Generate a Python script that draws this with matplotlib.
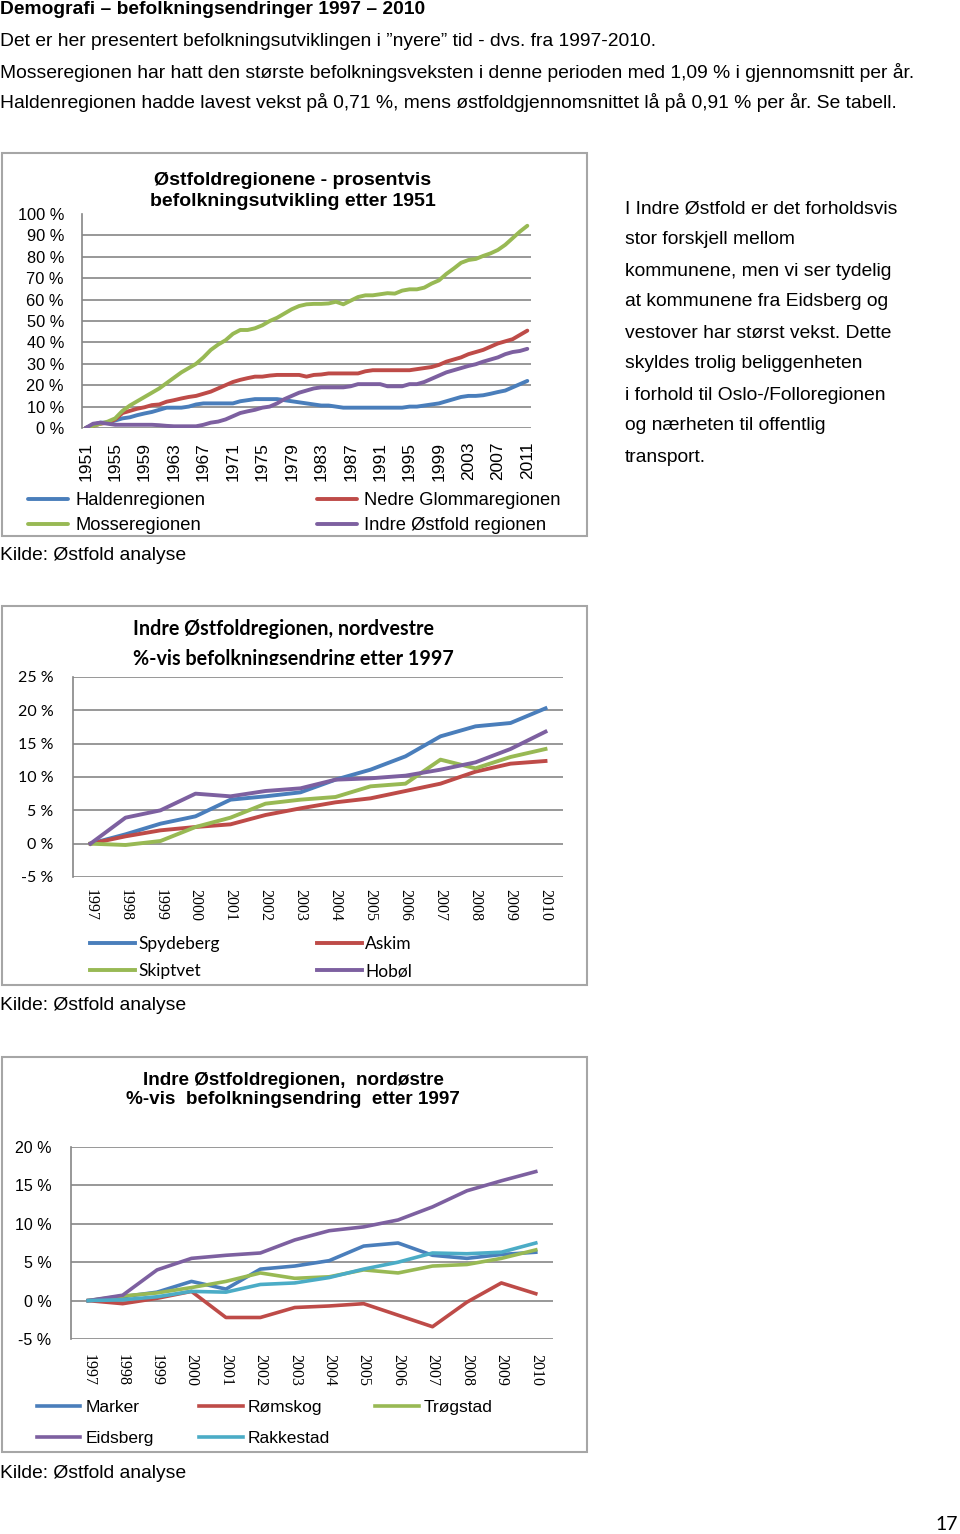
import numpy as np
import matplotlib
matplotlib.use('Agg')
import matplotlib.pyplot as plt
from matplotlib.patches import Rectangle
from matplotlib.transforms import Bbox, TransformedBbox

# ---- data ----
years_1951 = list(range(1951, 2012))
halden = [0, 1.5, 2.5, 2.5, 3.5, 4.5, 5, 6, 6.8, 7.5,
          8.5, 9.5, 9.5, 9.5, 10, 11, 11.5, 11.5, 11.5, 11.5,
          11.5, 12.5, 13, 13.5, 13.5, 13.5, 13.5, 13, 12.5, 12,
          11.5, 11, 10.5, 10.5, 10, 9.5, 9.5, 9.5, 9.5, 9.5,
          9.5, 9.5, 9.5, 9.5, 10, 10, 10.5, 11, 11.5, 12.5,
          13.5, 14.5, 15, 15, 15.3, 16, 16.8, 17.5, 19, 20.5,
          22]
nedre_glomma = [0, 1, 2, 2.5, 4, 7, 8, 9, 9.7, 10.7,
                11, 12.3, 13, 13.8, 14.5, 15, 16, 17, 18.5, 20,
                21.5, 22.5, 23.3, 24, 24, 24.5, 24.8, 24.8, 24.8, 24.8,
                24, 24.8, 25, 25.5, 25.5, 25.5, 25.5, 25.5, 26.5, 27,
                27, 27, 27, 27, 27, 27.5, 28, 28.5, 29.5, 31,
                32, 33, 34.5, 35.5, 36.5, 38, 39.5, 40.5, 41.5, 43.5,
                45.5]
mosse = [0, 1, 2, 3, 4.5, 8, 10.5, 12.5, 14.5, 16.5,
         18.5, 21, 23.5, 26, 28, 30, 33, 36.5, 39, 41,
         44, 45.8, 45.8, 46.6, 48, 50, 51.5, 53.5, 55.5, 57,
         57.8, 58, 58, 58.2, 59, 57.8, 59.5, 61.2, 62, 62,
         62.5, 63, 62.8, 64.2, 64.8, 64.8, 65.6, 67.5, 69, 72,
         74.5, 77.2, 78.5, 79, 80.4, 81.6, 83.2, 85.6, 88.7, 91.8,
         94.5]
indre = [0, 2, 2.5, 2, 1.5, 1.5, 1.5, 1.5, 1.5, 1.5,
         1.3, 1, 0.8, 0.8, 0.8, 0.8, 1.5, 2.5, 3, 4,
         5.5, 7, 7.8, 8.5, 9.5, 10, 11.5, 13.5, 15, 16.5,
         17.5, 18.5, 19, 19, 19, 19, 19.5, 20.5, 20.5, 20.5,
         20.5, 19.5, 19.5, 19.5, 20.5, 20.5, 21.5, 23, 24.5, 26,
         27, 28, 29, 29.8, 31, 32, 33, 34.5, 35.5, 36, 37]

years_1997 = list(range(1997, 2011))
spydeberg = [0, 1.4, 3.0, 4.1, 6.6, 7.1, 7.7, 9.6, 11.1, 13.1, 16.1, 17.6, 18.1, 20.3]
askim = [0, 1.1, 2.0, 2.5, 2.9, 4.3, 5.3, 6.2, 6.8, 7.9, 9.0, 10.8, 12.0, 12.4]
skiptvet = [0, -0.2, 0.4, 2.5, 3.9, 6.0, 6.6, 7.0, 8.6, 9.0, 12.6, 11.3, 13.0, 14.2]
hobol = [0, 3.9, 5.0, 7.5, 7.1, 7.9, 8.3, 9.6, 9.8, 10.2, 11.1, 12.2, 14.2, 16.8]

marker = [0, 0.5, 1.1, 2.5, 1.5, 4.1, 4.5, 5.2, 7.1, 7.5, 5.9, 5.5, 6.0, 6.3]
romskog = [0, -0.4, 0.3, 1.2, -2.2, -2.2, -0.9, -0.7, -0.4, -1.9, -3.4, -0.2, 2.3, 0.9]
trogstad = [0, 0.6, 1.0, 1.7, 2.5, 3.6, 2.9, 3.1, 4.0, 3.6, 4.5, 4.7, 5.5, 6.6]
eidsberg = [0, 0.7, 4.0, 5.5, 5.9, 6.2, 7.9, 9.1, 9.6, 10.5, 12.2, 14.3, 15.6, 16.8]
rakkestad = [0, 0.1, 0.5, 1.2, 1.1, 2.1, 2.3, 3.0, 4.1, 5.0, 6.2, 6.1, 6.3, 7.5]

BLUE, RED, GREEN, PURPLE, CYAN = '#4a7ebb', '#be4b48', '#98b954', '#7d60a0', '#4bacc6'
GRID = '#868686'
FRAME = '#a6a6a6'

NARROW = ['Liberation Sans', 'DejaVu Sans']
ARIAL = ['Liberation Sans', 'DejaVu Sans']
CALIBRI = ['Lato', 'DejaVu Sans']
SERIF = ['Liberation Serif', 'DejaVu Serif']
PAGE_FS = 13.9

W, H = 960, 1534
fig = plt.figure(figsize=(W / 100, H / 100), dpi=100)


def fy(y):
    return 1 - y / H


def add_ax(l, t, r, b):
    return fig.add_axes([l / W, 1 - b / H, (r - l) / W, (b - t) / H])


def frame(l, t, r, b):
    fig.add_artist(Rectangle((l / W, 1 - b / H), (r - l) / W, (b - t) / H,
                             transform=fig.transFigure, fill=False,
                             ec=FRAME, lw=1.5))


# ---- page text ----
fig.text(0, fy(10), 'Demografi – befolkningsendringer 1997 – 2010',
         family=NARROW, weight='bold', fontsize=PAGE_FS, va='center')
body = ['Det er her presentert befolkningsutviklingen i ”nyere” tid - dvs. fra 1997-2010.',
        'Mosseregionen har hatt den største befolkningsveksten i denne perioden med 1,09 % i gjennomsnitt per år.',
        'Haldenregionen hadde lavest vekst på 0,71 %, mens østfoldgjennomsnittet lå på 0,91 % per år. Se tabell.']
for i, line in enumerate(body):
    fig.text(0, fy(41 + 31 * i), line, family=NARROW, fontsize=PAGE_FS, va='center')

side = ['I Indre Østfold er det forholdsvis', 'stor forskjell mellom',
        'kommunene, men vi ser tydelig', 'at kommunene fra Eidsberg og',
        'vestover har størst vekst. Dette', 'skyldes trolig beliggenheten',
        'i forhold til Oslo-/Folloregionen', 'og nærheten til offentlig', 'transport.']
for i, line in enumerate(side):
    fig.text(625 / W, fy(209 + 31 * i), line, family=NARROW, fontsize=PAGE_FS, va='center')

for y in (556, 1006, 1473):
    fig.text(0, fy(y), 'Kilde: Østfold analyse', family=NARROW, fontsize=PAGE_FS, va='center')
fig.text(947 / W, fy(1524), '17', family=CALIBRI, fontsize=14, ha='center', va='center')


def style_axes(ax, grid_vals, hide_top=False):
    for s in ('top', 'right', 'bottom'):
        ax.spines[s].set_visible(False)
    ax.spines['left'].set_color(GRID)
    ax.spines['left'].set_linewidth(1.2)
    ax.set_yticks(grid_vals)
    ax.tick_params(length=0)
    ax.grid(axis='y', color=GRID, lw=1.2)
    ax.set_axisbelow(True)
    if hide_top:
        ax.get_ygridlines()[-1].set_visible(False)


# ---- chart 1 ----
frame(2, 153, 587, 536)
fig.text(293 / W, fy(191), 'Østfoldregionene - prosentvis\nbefolkningsutvikling etter 1951',
         family=ARIAL, weight='bold', fontsize=14, ha='center', va='center',
         linespacing=1.35)
ax1 = add_ax(82, 214, 531, 428)
l_h, = ax1.plot(years_1951, halden, color=BLUE, lw=2.8, solid_capstyle='round')
l_n, = ax1.plot(years_1951, nedre_glomma, color=RED, lw=2.8, solid_capstyle='round')
l_m, = ax1.plot(years_1951, mosse, color=GREEN, lw=2.8, solid_capstyle='round')
l_i, = ax1.plot(years_1951, indre, color=PURPLE, lw=2.8, solid_capstyle='round')
ax1.set_xlim(1950.5, 2011.5)
ax1.set_ylim(0, 100)
style_axes(ax1, list(range(0, 101, 10)), hide_top=True)
ax1.set_yticklabels([f'{v} %' for v in range(0, 101, 10)], family=ARIAL, fontsize=11.8)
ax1.set_xticks(years_1951[::4])
ax1.set_xticklabels([str(y) for y in years_1951[::4]], rotation=90,
                    family=ARIAL, fontsize=12.5)
ax1.tick_params(axis='y', pad=13)
ax1.tick_params(axis='x', pad=10)
ax1.legend([l_h, l_m, l_n, l_i],
           ['Haldenregionen', 'Mosseregionen', 'Nedre Glommaregionen', 'Indre Østfold regionen'],
           loc='upper left', bbox_to_anchor=(28 / W, fy(492)), bbox_transform=fig.transFigure,
           ncol=2, frameon=False, prop={'family': ARIAL, 'size': 13.2},
           handlelength=2.2, handletextpad=0.38, columnspacing=6.1,
           labelspacing=0.45, borderpad=0, borderaxespad=0)

# ---- chart 2 ----
frame(2, 606, 587, 985)
t2 = fig.text(133 / W, fy(644), 'Indre Østfoldregionen, nordvestre\n%-vis befolkningsendring etter 1997',
              family=CALIBRI, weight='bold', fontsize=14.2, ha='left', va='center',
              linespacing=1.6)
t2.set_clip_box(TransformedBbox(Bbox([[0, fy(665)], [1, 1]]), fig.transFigure))
t2.set_clip_on(True)
ax2 = add_ax(73, 677, 563, 877)
s1, = ax2.plot(years_1997, spydeberg, color=BLUE, lw=2.8)
s2, = ax2.plot(years_1997, askim, color=RED, lw=2.8)
s3, = ax2.plot(years_1997, skiptvet, color=GREEN, lw=2.8)
s4, = ax2.plot(years_1997, hobol, color=PURPLE, lw=2.8)
ax2.set_xlim(1996.5, 2010.5)
ax2.set_ylim(-5, 25)
style_axes(ax2, list(range(-5, 26, 5)))
ax2.set_yticklabels([f'{v} %' for v in range(-5, 26, 5)], family=CALIBRI, fontsize=11.5)
ax2.set_xticks(years_1997)
ax2.set_xticklabels([str(y) for y in years_1997], rotation=270, family=SERIF, fontsize=11.5)
ax2.tick_params(axis='y', pad=14)
ax2.tick_params(axis='x', pad=9)
ax2.legend([s1, s3, s2, s4], ['Spydeberg', 'Skiptvet', 'Askim', 'Hobøl'],
           loc='upper left', bbox_to_anchor=(90 / W, fy(936)), bbox_transform=fig.transFigure,
           ncol=2, frameon=False, prop={'family': CALIBRI, 'size': 12.5},
           handlelength=2.6, handletextpad=0.17, columnspacing=5.6,
           labelspacing=0.66, borderpad=0, borderaxespad=0)

# ---- chart 3 ----
frame(2, 1057, 587, 1452)
fig.text(293 / W, fy(1090), 'Indre Østfoldregionen,  nordøstre\n%-vis  befolkningsendring  etter 1997',
         family=ARIAL, weight='bold', fontsize=13.6, ha='center', va='center',
         linespacing=1.1)
ax3 = add_ax(71, 1147, 553, 1339)
m1, = ax3.plot(years_1997, marker, color=BLUE, lw=2.6)
m2, = ax3.plot(years_1997, romskog, color=RED, lw=2.6)
m3, = ax3.plot(years_1997, trogstad, color=GREEN, lw=2.6)
m4, = ax3.plot(years_1997, eidsberg, color=PURPLE, lw=2.6)
m5, = ax3.plot(years_1997, rakkestad, color=CYAN, lw=2.6)
ax3.set_xlim(1996.5, 2010.5)
ax3.set_ylim(-5, 20)
style_axes(ax3, list(range(-5, 21, 5)))
ax3.set_yticklabels([f'{v} %' for v in range(-5, 21, 5)], family=ARIAL, fontsize=11.5)
ax3.set_xticks(years_1997)
ax3.set_xticklabels([str(y) for y in years_1997], rotation=270, family=SERIF, fontsize=11.5)
ax3.tick_params(axis='y', pad=14)
ax3.tick_params(axis='x', pad=11)
ax3.legend([m1, m4, m2, m5, m3], ['Marker', 'Eidsberg', 'Rømskog', 'Rakkestad', 'Trøgstad'],
           loc='upper left', bbox_to_anchor=(37 / W, fy(1400)), bbox_transform=fig.transFigure,
           ncol=3, frameon=False, prop={'family': ARIAL, 'size': 12.5},
           handlelength=2.5, handletextpad=0.3, columnspacing=2.6,
           labelspacing=0.93, borderpad=0, borderaxespad=0)

fig.savefig('out.png', dpi=100, facecolor='white')
